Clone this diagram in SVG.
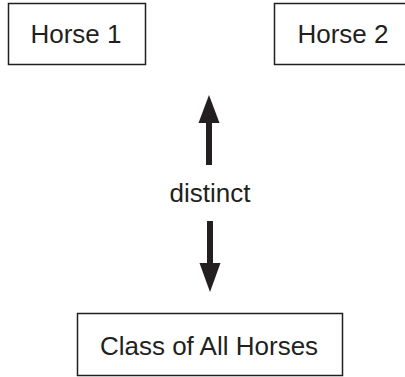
<svg xmlns="http://www.w3.org/2000/svg" width="405" height="377" viewBox="0 0 405 377">
<style>
.box{fill:#fff;stroke:#231f20;stroke-width:1.5}
.lbl{font-family:"Liberation Sans",Arial,sans-serif;font-size:26px;fill:#231f20;text-anchor:middle}
.shaft{stroke:#231f20;stroke-width:6;fill:none}
.head{fill:#231f20}
</style>
<rect width="405" height="377" fill="#fff"/>
<g id="horse1">
<rect class="box" x="8.5" y="3.5" width="137" height="61"/>
<text class="lbl" x="76" y="43">Horse 1</text>
</g>
<g id="horse2">
<rect class="box" x="274.5" y="3.5" width="137" height="61"/>
<text class="lbl" x="343" y="43">Horse 2</text>
</g>
<g id="class">
<rect class="box" x="77.5" y="313.5" width="265" height="62"/>
<text class="lbl" x="209" y="355">Class of All Horses</text>
</g>
<g id="connectors">
<line class="shaft" x1="209" y1="165" x2="209" y2="120"/>
<polygon class="head" points="209,95 198.5,123 219.5,123"/>
<line class="shaft" x1="210" y1="221" x2="210" y2="266"/>
<polygon class="head" points="210,292 199.5,263 220.5,263"/>
<text class="lbl" x="210" y="202">distinct</text>
</g>
</svg>
